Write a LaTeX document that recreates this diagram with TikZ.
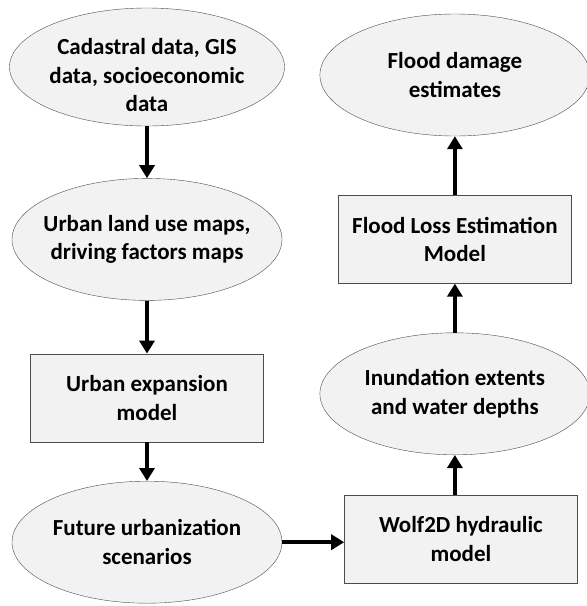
\documentclass[tikz,border=0pt]{standalone}
\usepackage{fontspec}
\setmainfont{Carlito}
\usetikzlibrary{positioning,shapes.geometric,arrows.meta}

\tikzset{
	box/.style={draw=black!70, fill=black!5, inner sep=0pt, align=center,
		font=\fontsize{23}{28.5}\selectfont\bfseries},
	data/.style={box, ellipse, inner xsep=-30pt, minimum width=270pt, minimum height=122pt},
	model/.style={box, rectangle, minimum width=233pt, minimum height=88pt},
	flow/.style={-{Triangle[length=13pt,width=15pt]}, line width=4.5pt}
}

\begin{document}
\begin{tikzpicture}[x=1pt,y=1pt]
	\useasboundingbox (0,0) rectangle (587,-606);
	
	% left column
	\node[data, inner ysep=-14pt, minimum width=275pt, minimum height=118pt] (cad) at (147,-67)
		{\rule{0pt}{33pt}Cadastral data, GIS\\data, socioeconomic\\data};
	\node[data, below=52pt of cad] (luse) {Urban land use maps,\\driving factors maps};
	\node[model, below=53pt of luse] (uem) {Urban expansion\\model};
	\node[data, below=39pt of uem] (fut) {Future urbanization\\scenarios};
	
	% right column
	\node[model, right=62pt of fut, yshift=3pt] (wolf) {Wolf2D hydraulic\\model};
	\node[data, above=40pt of wolf, xshift=-6pt] (inun) {Inundation extents\\and water depths};
	\node[model, above=49pt of inun] (loss) {Flood Loss Estimation\\Model};
	\node[data, above=59pt of loss] (dmg) {Flood damage\\estimates};
	
	\draw[flow] (cad) -- (luse);
	\draw[flow] (luse) -- (uem);
	\draw[flow] (uem) -- (fut);
	\draw[flow] (fut.east) -- (fut.east -| wolf.west);
	\draw[flow] (inun |- wolf.north) -- (inun.south);
	\draw[flow] (inun) -- (loss);
	\draw[flow] (loss) -- (dmg);
\end{tikzpicture}
\end{document}
